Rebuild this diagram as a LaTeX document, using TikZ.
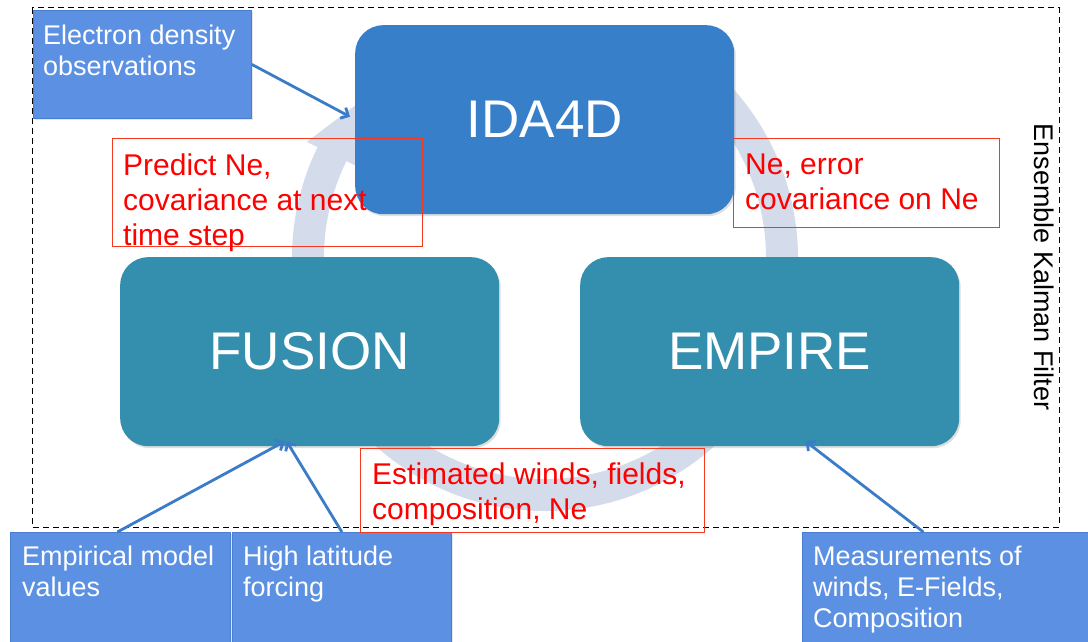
\documentclass[tikz,border=0pt]{standalone}
\usepackage{fontspec}
\setmainfont{Liberation Sans}
\usetikzlibrary{arrows.meta}
\usetikzlibrary{shadows}
\usetikzlibrary{positioning}
\definecolor{idablue}{HTML}{387FCA}
\definecolor{modteal}{HTML}{348EAE}
\definecolor{inblue}{HTML}{5B90E2}
\definecolor{inedge}{HTML}{4A7ED0}
\definecolor{cyclegray}{HTML}{D4DBEA}
\definecolor{linkblue}{HTML}{3A7CC8}
\definecolor{flowred}{HTML}{F5391F}
\tikzset{>={Straight Barb[length=6pt,width=12pt]}}

\begin{document}
\begin{tikzpicture}[
        x=1pt, y=-1pt,
        model/.style={
            anchor=north west,
            rounded corners=28pt,
            minimum width=379pt,
            minimum height=189pt,
            text=white,
            font=\fontsize{53}{60}\selectfont,
            drop shadow={opacity=0.25, shadow xshift=1.5pt, shadow yshift=-2pt},
        },
        inbox/.style={
            anchor=north west,
            fill=inblue,
            draw=inedge,
            line width=0.8pt,
            drop shadow={opacity=0.2, shadow xshift=1.5pt, shadow yshift=-1.5pt},
        },
        intext/.style={
            anchor=north west,
            inner sep=0pt,
            align=left,
            text=white,
            font=\fontsize{27}{31}\selectfont,
        },
        flowbox/.style={
            anchor=north west,
            draw=flowred,
            line width=1pt,
        },
        flowtext/.style={
            anchor=north west,
            inner sep=0pt,
            align=left,
            text=red,
            font=\fontsize{30}{35}\selectfont,
        },
        link/.style={
            ->,
            draw=linkblue,
            line width=2.8pt,
        },
    ]
        \useasboundingbox (0,0) rectangle (1088,642);

        % filter frame
        \draw[dashed, line width=1pt, dash pattern=on 6pt off 4pt] (32,8) rectangle (1059,527);
        \node[rotate=-90, font=\fontsize{27}{31}\selectfont] (enkf) at (1044,267) {Ensemble Kalman Filter};

        % assimilation cycle
        \coordinate (hub) at (545,258);
        \fill[cyclegray] ([shift={(-55:253)}]hub) arc[start angle=-55, end angle=206, radius=253]
            -- ([shift={(206:265)}]hub) -- ([shift={(228:237)}]hub) -- ([shift={(206:209)}]hub)
            -- ([shift={(206:221)}]hub) arc[start angle=206, end angle=-55, radius=221] -- cycle;

        % models
        \node[model, fill=idablue] (ida) at (355,25) {IDA4D};
        \node[model, fill=modteal] (fusion) at (120,257) {FUSION};
        \node[model, fill=modteal] (empire) at (580,257) {EMPIRE};

        % inputs
        \node[inbox, minimum width=218pt, minimum height=108pt] (edens) at (33,10) {};
        \node[intext] (edenstxt) at (43,25) {Electron density\\observations};

        \node[inbox, minimum width=220pt, minimum height=114pt] (empir) at (10,532) {};
        \node[intext] (empirtxt) at (22,546) {Empirical model\\values};

        \node[inbox, minimum width=219pt, minimum height=114pt] (hilat) at (232,532) {};
        \node[intext] (hilattxt) at (243,546) {High latitude\\forcing};

        \node[inbox, minimum width=290pt, minimum height=114pt] (meas) at (802,532) {};
        \node[intext] (meastxt) at (813,546) {Measurements of\\winds, E-Fields,\\Composition};

        % exchanged quantities
        \node[flowbox, minimum width=310pt, minimum height=108pt] (predbox) at (112,138) {};
        \node[flowtext] (predtxt) at (123,154) {Predict Ne,\\covariance at next\\time step};

        \node[flowbox, minimum width=266pt, minimum height=89pt] (nebox) at (733,138) {};
        \node[flowtext] (netxt) at (745,154) {Ne, error\\covariance on Ne};

        \node[flowbox, minimum width=344pt, minimum height=84pt] (estbox) at (360,448) {};
        \node[flowtext] (esttxt) at (372,463) {Estimated winds, fields,\\composition, Ne};

        % input arrows
        \draw[link] (edens.east) -- ([xshift=-5pt, yshift=3pt]ida.west);
        \draw[link] ([xshift=-3pt]empir.north) -- ([xshift=-25pt, yshift=5pt]fusion.south);
        \draw[link] (hilat.north) -- ([xshift=-23pt, yshift=5pt]fusion.south);
        \draw[link] ([xshift=-24pt]meas.north) -- ([xshift=36pt, yshift=5pt]empire.south);
    \end{tikzpicture}
\end{document}
